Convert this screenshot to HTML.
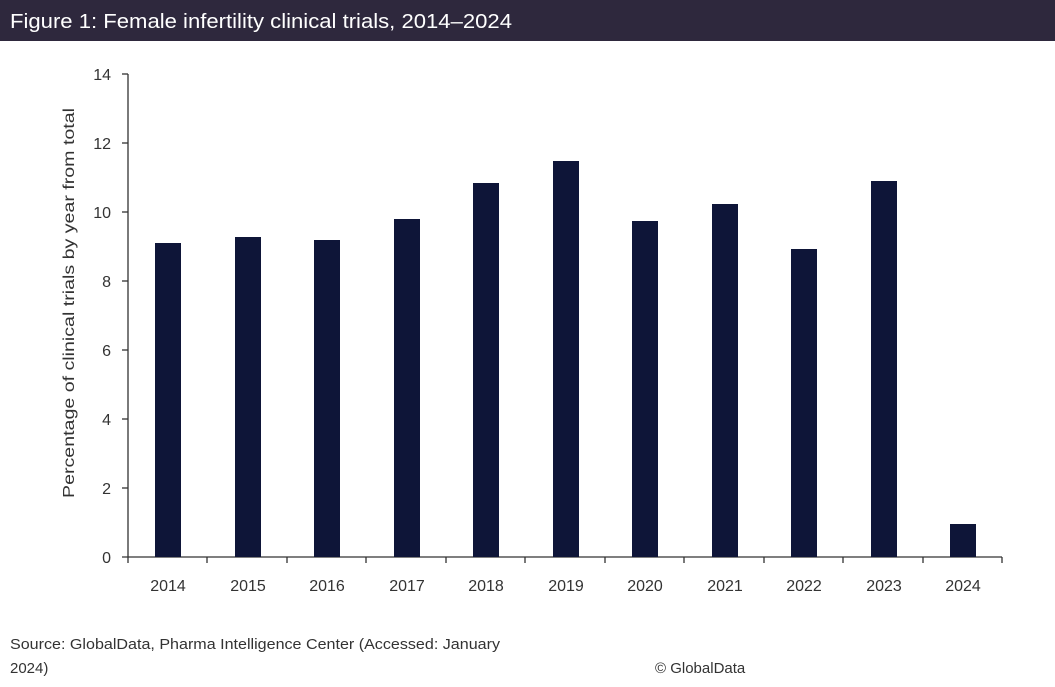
<!DOCTYPE html>
<html><head><meta charset="utf-8"><style>
body{margin:0;width:1055px;height:687px;background:#fff;overflow:hidden;font-family:"Liberation Sans",sans-serif}
</style></head><body>
<svg width="1055" height="687" style="position:absolute;left:0;top:0">
<rect x="0" y="0" width="1055" height="41" fill="#2e283d"/>
<text x="10" y="28" font-family="Liberation Sans, sans-serif" font-size="20" fill="#fff" textLength="502" lengthAdjust="spacingAndGlyphs">Figure 1: Female infertility clinical trials, 2014–2024</text>
<g font-family="Liberation Sans, sans-serif" font-size="16" fill="#333">
<g text-anchor="end">
<text x="111" y="563">0</text><text x="111" y="494">2</text><text x="111" y="425">4</text><text x="111" y="356">6</text><text x="111" y="287">8</text><text x="111" y="218">10</text><text x="111" y="149">12</text><text x="111" y="80">14</text>
</g>
<g stroke="#333" stroke-width="1.3">
<line x1="128" y1="74" x2="128" y2="557"/>
<line x1="122" y1="557" x2="1002" y2="557"/>
<line x1="122" y1="488" x2="128" y2="488"/><line x1="122" y1="419" x2="128" y2="419"/><line x1="122" y1="350" x2="128" y2="350"/><line x1="122" y1="281" x2="128" y2="281"/><line x1="122" y1="212" x2="128" y2="212"/><line x1="122" y1="143" x2="128" y2="143"/><line x1="122" y1="74" x2="128" y2="74"/>
<line x1="128" y1="557" x2="128" y2="563"/><line x1="207" y1="557" x2="207" y2="563"/><line x1="287" y1="557" x2="287" y2="563"/><line x1="366" y1="557" x2="366" y2="563"/><line x1="446" y1="557" x2="446" y2="563"/><line x1="525" y1="557" x2="525" y2="563"/><line x1="605" y1="557" x2="605" y2="563"/><line x1="684" y1="557" x2="684" y2="563"/><line x1="764" y1="557" x2="764" y2="563"/><line x1="843" y1="557" x2="843" y2="563"/><line x1="923" y1="557" x2="923" y2="563"/><line x1="1002" y1="557" x2="1002" y2="563"/>
</g>
<g fill="#0e1538">
<rect x="155" y="243" width="26" height="314"/>
<rect x="235" y="237" width="26" height="320"/>
<rect x="314" y="240" width="26" height="317"/>
<rect x="394" y="219" width="26" height="338"/>
<rect x="473" y="183" width="26" height="374"/>
<rect x="553" y="161" width="26" height="396"/>
<rect x="632" y="221" width="26" height="336"/>
<rect x="712" y="204" width="26" height="353"/>
<rect x="791" y="249" width="26" height="308"/>
<rect x="871" y="181" width="26" height="376"/>
<rect x="950" y="524" width="26" height="33"/>
</g>
<g text-anchor="middle">
<text x="168" y="591">2014</text><text x="248" y="591">2015</text><text x="327" y="591">2016</text><text x="407" y="591">2017</text><text x="486" y="591">2018</text><text x="566" y="591">2019</text><text x="645" y="591">2020</text><text x="725" y="591">2021</text><text x="804" y="591">2022</text><text x="884" y="591">2023</text><text x="963" y="591">2024</text>
<text transform="translate(74,303) rotate(-90)" font-size="16" textLength="390" lengthAdjust="spacingAndGlyphs">Percentage of clinical trials by year from total</text>
</g>
<text x="10" y="649" font-size="15" textLength="490" lengthAdjust="spacingAndGlyphs">Source: GlobalData, Pharma Intelligence Center (Accessed: January</text>
<text x="10" y="673" font-size="15">2024)</text>
<text x="655" y="673" font-size="15">© GlobalData</text>
</g>
</svg>
</body></html>
